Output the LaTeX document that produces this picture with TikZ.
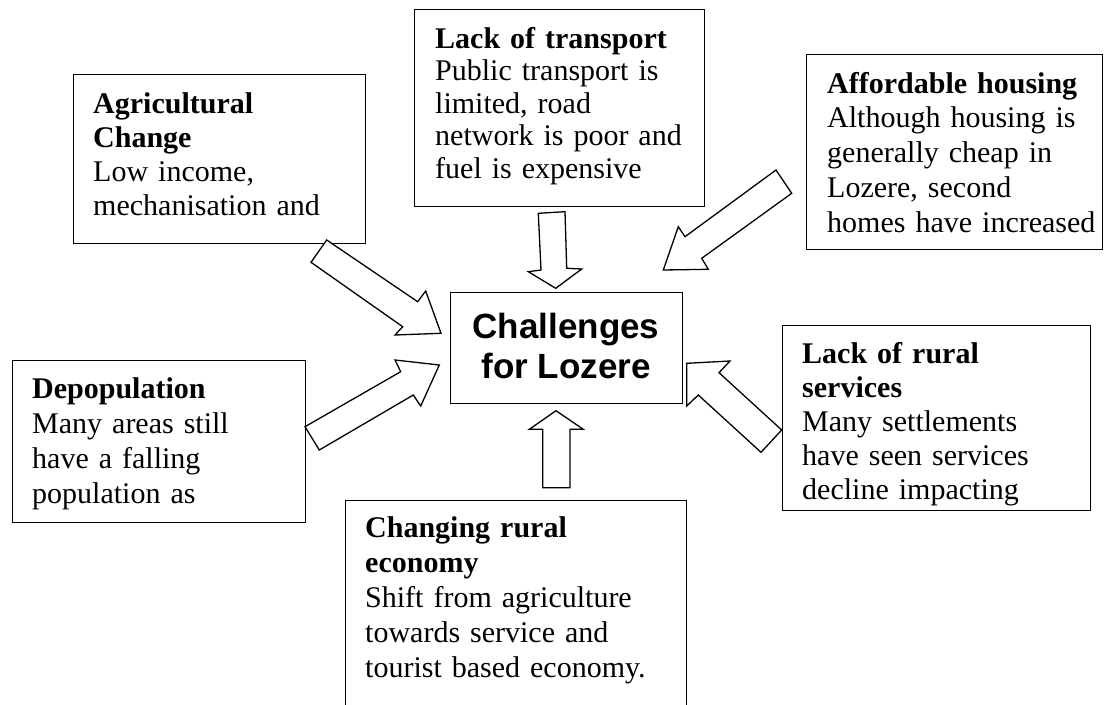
\documentclass[tikz,border=0pt]{standalone}
\usepackage{fontspec}
\setmainfont{Liberation Serif}
\newfontfamily\sansfam{Liberation Sans}
\begin{document}
\begin{tikzpicture}[x=1pt,y=-1pt,
  box/.style={draw,line width=1.4pt,inner sep=0pt,anchor=north west},
  txt/.style={anchor=north west,inner sep=0pt,text width=#1,align=left,
              font=\fontsize{30}{34}\selectfont},
  blockarrow/.style={draw,fill=white,line width=1.3pt,line join=miter}]
\useasboundingbox (0,0) rectangle (1105,704);
\fill[white] (0,0) rectangle (1105,704);

% boxes
\node[box,minimum width=292pt,minimum height=169pt] (agri) at (73,74) {};
\node[box,minimum width=290pt,minimum height=197pt] (trans) at (414,9) {};
\node[box,minimum width=296pt,minimum height=195pt] (house) at (806,54) {};
\node[box,minimum width=232pt,minimum height=111pt] (centre) at (450,292) {};
\node[box,minimum width=293pt,minimum height=162pt] (depop) at (12,360) {};
\node[box,minimum width=341pt,minimum height=215pt] (econ) at (345,500) {};
\node[box,minimum width=308pt,minimum height=185pt] (serv) at (782,325) {};

% texts
\begin{scope}
\clip (agri.north west) rectangle (agri.south east);
\node[txt=270pt] (agritxt) at (93,89.2) {\strut\textbf{Agricultural}\\\textbf{Change}\\Low income,\\mechanisation and};
\end{scope}
\node[txt=280pt,font=\fontsize{30}{32.5}\selectfont] (transtxt) at (435,25.25) {\strut\textbf{Lack of transport}\\Public transport is\\limited, road\\network is poor and\\fuel is expensive};
\node[txt=280pt,font=\fontsize{30}{34.75}\selectfont] (housetxt) at (827,68.7) {\strut\textbf{Affordable housing}\\Although housing is\\generally cheap in\\Lozere, second\\homes have increased};
\node[anchor=north,inner sep=0pt,align=center,font=\sansfam\bfseries\fontsize{35}{40}\selectfont] (centretxt) at (566,310) {\strut Challenges\\for Lozere};
\begin{scope}
\clip (depop.north west) rectangle (depop.south east);
\node[txt=270pt,font=\fontsize{30}{35}\selectfont] (depoptxt) at (32,373.5) {\strut\textbf{Depopulation}\\Many areas still\\have a falling\\population as};
\end{scope}
\node[txt=320pt,font=\fontsize{30}{35}\selectfont] (econtxt) at (365,512.5) {\strut\textbf{Changing rural}\\\textbf{economy}\\Shift from agriculture\\towards service and\\tourist based economy.};
\begin{scope}
\clip (serv.north west) rectangle (serv.south east);
\node[txt=290pt] (servtxt) at (802,339.2) {\strut\textbf{Lack of rural}\\\textbf{services}\\Many settlements\\have seen services\\decline impacting};
\end{scope}

% block arrows
\draw[blockarrow] (326.7,240) -- (417.7,301.7) -- (425.7,291) -- (441,333.3) -- (395,335) -- (402.7,326.7) -- (311,262.3) -- cycle;
\draw[blockarrow] (305,426.7) -- (400.7,371.7) -- (395,360) -- (439.3,365) -- (420.7,406) -- (413.3,395) -- (319.3,450) -- cycle;
\draw[blockarrow] (538.3,213.3) -- (565,211.7) -- (566.7,268.3) -- (581.7,269) -- (555.7,288.3) -- (528.3,271.7) -- (541,270) -- cycle;
\draw[blockarrow] (776,170) -- (685,236.7) -- (678.3,226.7) -- (663.3,270) -- (708.3,269.3) -- (701.7,258.3) -- (791.7,193.3) -- cycle;
\draw[blockarrow] (781.7,430) -- (719,372.7) -- (730,361) -- (686.7,363.3) -- (686.7,406) -- (698.3,395) -- (761,452.3) -- cycle;
\draw[blockarrow] (542.7,487.7) -- (542.7,429.3) -- (529.3,429.3) -- (556,410.7) -- (583.3,429.3) -- (570,429.3) -- (570,487.7) -- cycle;
\end{tikzpicture}
\end{document}
